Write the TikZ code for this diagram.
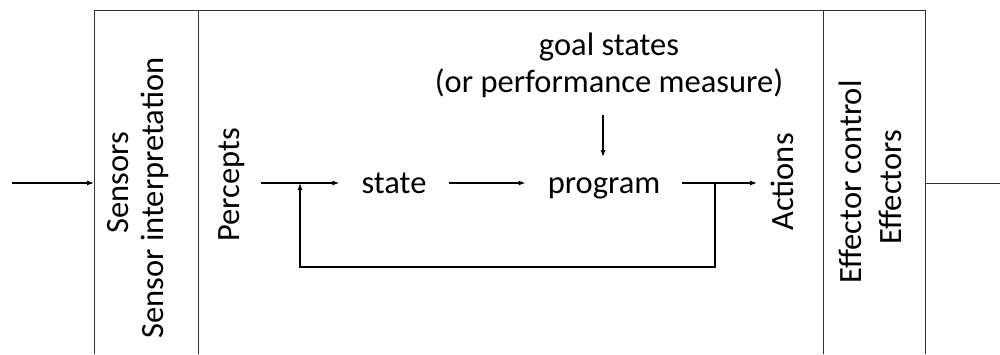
\documentclass[tikz,border=0pt]{standalone}
\usepackage{fontspec}
\setmainfont{Carlito}
\usetikzlibrary{arrows.meta}
\begin{document}
\begin{tikzpicture}[x=1pt,y=-1pt,
  txt/.style={font=\fontsize{32.5}{37}\selectfont, inner sep=0pt},
  vtxt/.style={txt, rotate=90},
  arr/.style={line width=1.2pt, -{Latex[length=7pt,width=5pt]}},
  ln/.style={line width=1.2pt},
  frame/.style={line width=1pt, draw=black!80}]
\useasboundingbox (0,0) rectangle (1000,354);
% frame
\coordinate (tl) at (94,10);
\coordinate (tr) at (925,10);
\coordinate (bl) at (94,354);
\coordinate (br) at (925,354);
\coordinate (s1t) at (198,10);
\coordinate (s1b) at (198,354);
\coordinate (s2t) at (823,10);
\coordinate (s2b) at (823,354);
\draw[frame] (bl) -- (tl) -- (tr) -- (br);
\draw[frame] (s1t) -- (s1b);
\draw[frame] (s2t) -- (s2b);
% side texts
\node[vtxt] (sensors) at (118,183) {Sensors};
\node[vtxt] (sensint) at (155,198) {Sensor interpretation};
\node[vtxt] (percepts) at (232,185) {Percepts};
\node[vtxt] (actions) at (782,182) {Actions};
\node[vtxt] (effctrl) at (850,182) {Effector control};
\node[vtxt] (effectors) at (890,187) {Effectors};
% main nodes
\node[txt, inner xsep=22pt, anchor=base] (state) at (394,193) {state};
\node[txt, inner xsep=22pt, anchor=base] (program) at (604,193) {program};
\node[txt, align=center, anchor=base] (goal) at (609,92) {goal states\\(or performance measure)};
% connectors
\coordinate (in) at (12,183);
\coordinate (sin) at (94,183);
\coordinate (pout) at (261,183);
\coordinate (ain) at (757,183);
\coordinate (eout) at (925,183);
\coordinate (out) at (1000,183);
\coordinate (fbr) at (715,183);
\coordinate (fbrb) at (715,267);
\coordinate (fblb) at (300,267);
\coordinate (fbl) at (300,183);
\coordinate (gs) at (603,115);
\coordinate (ge) at (603,157);
\draw[arr] (in) -- (sin);
\draw[frame] (eout) -- (out);
\draw[arr] (pout) -- (state.west |- pout);
\draw[arr] (state.east |- pout) -- (program.west |- pout);
\draw[arr] (program.east |- pout) -- (ain);
\draw[arr] (fbr) -- (fbrb) -- (fblb) -- (fbl);
\draw[arr] (gs) -- (ge);
\end{tikzpicture}
\end{document}
